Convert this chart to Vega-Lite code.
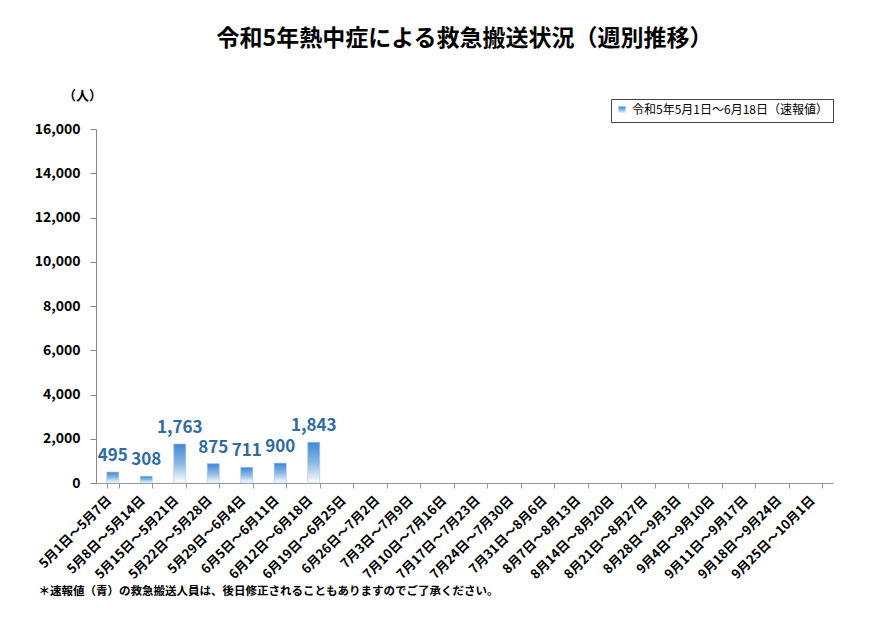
{
  "$schema": "https://vega.github.io/schema/vega-lite/v6.json",
  "width": 737,
  "height": 354,
  "autosize": {"type": "none"},
  "padding": {"left": 96, "top": 129, "right": 37, "bottom": 139},
  "background": "white",
  "config": {
    "font": "Noto Sans CJK JP",
    "view": {"stroke": null}
  },
  "title": {
    "text": "令和5年熱中症による救急搬送状況（週別推移）",
    "fontSize": 23,
    "fontWeight": "bold",
    "color": "#000",
    "anchor": "middle",
    "frame": "group",
    "offset": 38
  },
  "data": {
    "values": [
      {"week": "5月1日～5月7日", "count": 495, "series": "令和5年5月1日～6月18日（速報値）"},
      {"week": "5月8日～5月14日", "count": 308, "series": "令和5年5月1日～6月18日（速報値）"},
      {"week": "5月15日～5月21日", "count": 1763, "series": "令和5年5月1日～6月18日（速報値）"},
      {"week": "5月22日～5月28日", "count": 875, "series": "令和5年5月1日～6月18日（速報値）"},
      {"week": "5月29日～6月4日", "count": 711, "series": "令和5年5月1日～6月18日（速報値）"},
      {"week": "6月5日～6月11日", "count": 900, "series": "令和5年5月1日～6月18日（速報値）"},
      {"week": "6月12日～6月18日", "count": 1843, "series": "令和5年5月1日～6月18日（速報値）"}
    ]
  },
  "encoding": {
    "x": {
      "field": "week",
      "type": "nominal",
      "sort": null,
      "scale": {
        "domain": ["5月1日～5月7日", "5月8日～5月14日", "5月15日～5月21日", "5月22日～5月28日", "5月29日～6月4日", "6月5日～6月11日", "6月12日～6月18日", "6月19日～6月25日", "6月26日～7月2日", "7月3日～7月9日", "7月10日～7月16日", "7月17日～7月23日", "7月24日～7月30日", "7月31日～8月6日", "8月7日～8月13日", "8月14日～8月20日", "8月21日～8月27日", "8月28日～9月3日", "9月4日～9月10日", "9月11日～9月17日", "9月18日～9月24日", "9月25日～10月1日"],
        "paddingInner": 0.64,
        "paddingOuter": 0.32
      },
      "axis": {
        "title": "＊速報値（青）の救急搬送人員は、後日修正されることもありますのでご了承ください。",
        "titleFontSize": 11.5,
        "titleFontWeight": "bold",
        "titleColor": "#000",
        "titleAlign": "left",
        "titleAnchor": "start",
        "titleX": -58,
        "titleY": 108,
        "titleBaseline": "middle",
        "labelAngle": -45,
        "labelAlign": "right",
        "labelBaseline": "middle",
        "labelPadding": 10,
        "labelOffset": -4,
        "labelFontSize": 13,
        "labelFontWeight": "bold",
        "labelColor": "#000",
        "tickBand": "extent",
        "tickSize": 5,
        "tickColor": "#999",
        "domainColor": "#999",
        "labelOverlap": false
      }
    },
    "y": {
      "field": "count",
      "type": "quantitative",
      "scale": {"domain": [0, 16000]},
      "axis": {
        "values": [0, 2000, 4000, 6000, 8000, 10000, 12000, 14000, 16000],
        "format": ",.0f",
        "grid": false,
        "title": "（人）",
        "titleAngle": 0,
        "titleX": -14,
        "titleY": -34,
        "titleAlign": "center",
        "titleBaseline": "middle",
        "titleFontSize": 13,
        "titleFontWeight": "bold",
        "titleColor": "#000",
        "labelFontSize": 14,
        "labelFontWeight": "bold",
        "labelColor": "#000",
        "labelPadding": 10,
        "tickSize": 6,
        "tickColor": "#888",
        "domainColor": "#888"
      }
    }
  },
  "layer": [
    {
      "mark": {
        "type": "bar",
        "stroke": "#a9c4e2",
        "strokeWidth": 0.6,
        "color": {
          "gradient": "linear",
          "x1": 0, "y1": 0, "x2": 0, "y2": 1,
          "stops": [
            {"offset": 0, "color": "#3f87d4"},
            {"offset": 0.5, "color": "#8ab8e6"},
            {"offset": 1, "color": "#ffffff"}
          ]
        }
      },
      "encoding": {
        "opacity": {
          "field": "series",
          "type": "nominal",
          "scale": {"range": [1]},
          "legend": {
            "title": null,
            "orient": "none",
            "legendX": 515,
            "legendY": -30,
            "symbolType": "square",
            "symbolFillColor": "#5b9bd5",
            "symbolStrokeColor": "#5b9bd5",
            "symbolSize": 50,
            "labelFontSize": 12,
            "labelColor": "#000",
            "labelLimit": 400,
            "strokeColor": "#444",
            "fillColor": "white",
            "padding": 5
          }
        }
      }
    },
    {
      "mark": {
        "type": "text",
        "dy": -7,
        "baseline": "bottom",
        "fontSize": 17,
        "fontWeight": "bold",
        "color": "#2e6aa3"
      },
      "encoding": {
        "text": {"field": "count", "type": "quantitative", "format": ","}
      }
    }
  ]
}
